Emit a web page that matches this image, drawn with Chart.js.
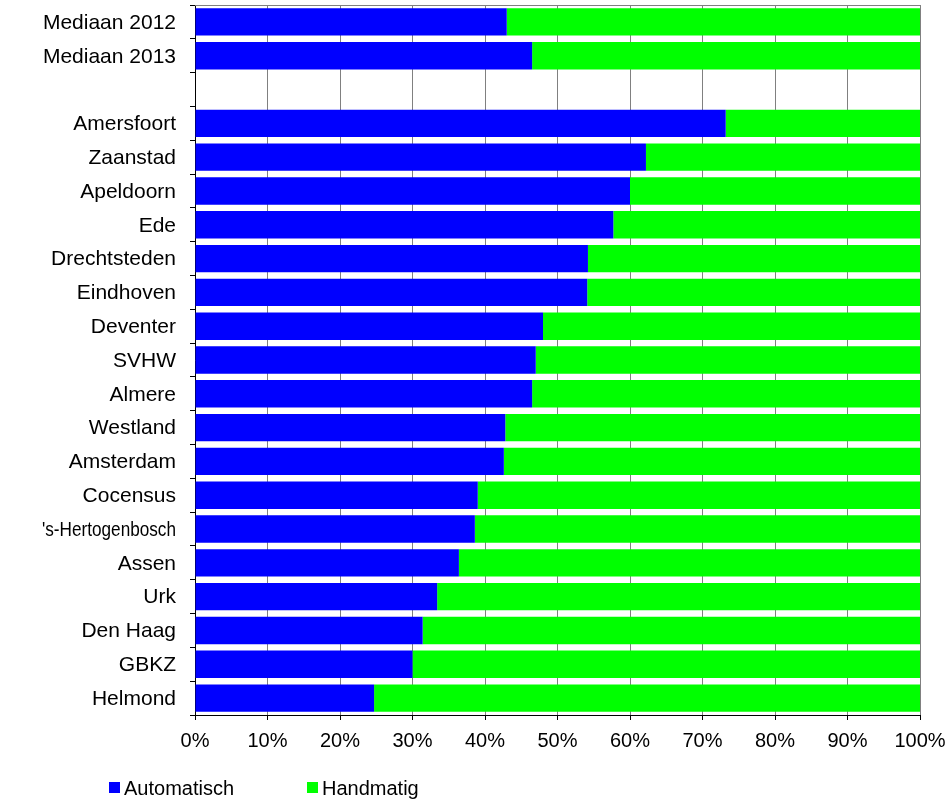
<!DOCTYPE html>
<html>
<head>
<meta charset="utf-8">
<script src="https://cdn.jsdelivr.net/npm/chart.js@4"></script>
<style>
  html, body { margin: 0; padding: 0; background: #ffffff; }
  #wrap { width: 950px; height: 800px; position: relative; }
</style>
</head>
<body>
<div id="wrap"><canvas id="c" width="950" height="800"></canvas></div>
<script>
const categories = ["Mediaan 2012", "Mediaan 2013", "", "Amersfoort", "Zaanstad", "Apeldoorn", "Ede",
  "Drechtsteden", "Eindhoven", "Deventer", "SVHW", "Almere", "Westland", "Amsterdam", "Cocensus",
  "'s-Hertogenbosch", "Assen", "Urk", "Den Haag", "GBKZ", "Helmond"];
const automatisch = [43.0, 46.5, null, 73.2, 62.2, 60.0, 57.7, 54.2, 54.1, 48.0, 47.0, 46.5, 42.8, 42.6,
  39.0, 38.6, 36.4, 33.4, 31.4, 30.0, 24.7];
const handmatig = automatisch.map(v => v === null ? null : +(100 - v).toFixed(1));
const seriesNames = ["Automatisch", "Handmatig"];
const xTicks = [0, 10, 20, 30, 40, 50, 60, 70, 80, 90, 100];

const FONT = '"Liberation Sans", Arial, sans-serif';

const frameAndLegend = {
  id: 'frameAndLegend',
  afterDatasetsDraw(chart) {
    const { ctx, chartArea: a } = chart;
    ctx.save();
    ctx.strokeStyle = '#808080';
    ctx.lineWidth = 1;
    ctx.beginPath();
    ctx.moveTo(a.left, a.top + 0.5);
    ctx.lineTo(a.right + 0.5, a.top + 0.5);
    ctx.lineTo(a.right + 0.5, a.bottom);
    ctx.stroke();
    ctx.restore();
  },
  afterDraw(chart) {
    const { ctx } = chart;
    // category labels, drawn at the y scale's own tick positions (long ones squeezed to fit)
    const ys = chart.scales.y;
    ctx.save();
    ctx.font = '21px ' + FONT;
    ctx.textBaseline = 'middle';
    ctx.textAlign = 'right';
    ctx.fillStyle = '#000';
    chart.data.labels.forEach((lab, i) => {
      if (!lab) return;
      ctx.fillText(lab, 176, ys.getPixelForTick(i) + 1, 134);
    });
    ctx.restore();

    const items = [
      { x: 109, color: chart.data.datasets[0].backgroundColor, label: chart.data.datasets[0].label },
      { x: 307, color: chart.data.datasets[1].backgroundColor, label: chart.data.datasets[1].label }
    ];
    ctx.save();
    ctx.font = '20px ' + FONT;
    ctx.textBaseline = 'middle';
    items.forEach(it => {
      ctx.fillStyle = it.color;
      ctx.fillRect(it.x, 782, 11, 11);
      ctx.fillStyle = '#000';
      ctx.fillText(it.label, it.x + 15, 789);
    });
    ctx.restore();
  }
};

new Chart(document.getElementById('c'), {
  type: 'bar',
  data: {
    labels: categories,
    datasets: [
      { label: seriesNames[0], data: automatisch, backgroundColor: '#0000ff', borderWidth: 0 },
      { label: seriesNames[1], data: handmatig, backgroundColor: '#00ff00', borderWidth: 0 }
    ]
  },
  options: {
    indexAxis: 'y',
    responsive: false,
    animation: false,
    devicePixelRatio: 1,
    categoryPercentage: 0.81,
    barPercentage: 1.0,
    layout: { padding: { top: 5, right: 30, left: 0, bottom: 0 } },
    plugins: {
      legend: { display: false },
      tooltip: { enabled: false },
      title: { display: false }
    },
    scales: {
      x: {
        stacked: true,
        min: 0,
        max: 100,
        afterFit(s) { s.height = 85; s.paddingLeft = 0; s.paddingRight = 0; },
        afterBuildTicks(s) { s.ticks = xTicks.map(v => ({ value: v })); },
        ticks: {
          callback: v => v + '%',
          color: '#000',
          font: { family: FONT, size: 20 },
          padding: 9,
          autoSkip: false,
          maxRotation: 0
        },
        grid: {
          color: '#808080',
          tickColor: '#000',
          tickLength: 5,
          lineWidth: 1
        },
        border: { color: '#000', width: 1 }
      },
      y: {
        stacked: true,
        afterFit(s) { s.width = 195; s.paddingTop = 0; s.paddingBottom = 0; },
        ticks: {
          display: false,
          autoSkip: false
        },
        grid: {
          offset: true,
          drawOnChartArea: false,
          drawTicks: true,
          tickLength: 5,
          tickColor: '#000'
        },
        border: { color: '#000', width: 1 }
      }
    }
  },
  plugins: [frameAndLegend]
});
</script>
</body>
</html>
